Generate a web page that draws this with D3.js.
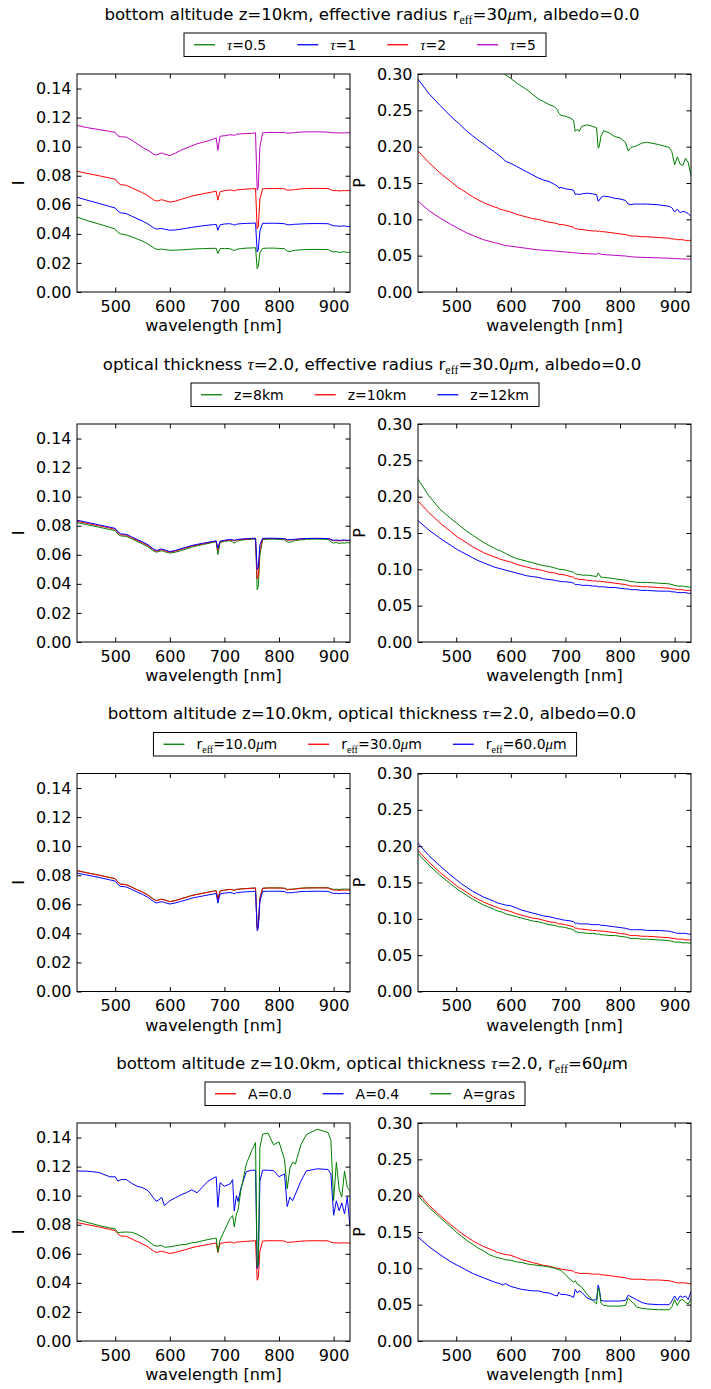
<!DOCTYPE html>
<html><head><meta charset="utf-8">
<script src="https://cdn.jsdelivr.net/npm/d3@7"></script>
<style>
body{margin:0;background:#fff;}
svg text{font-family:"DejaVu Sans",sans-serif;fill:#000;}
</style></head><body>
<svg id="fig" width="711" height="1389"></svg>
<script>
// ---------------- DATA ----------------
const wavelengths = [430,450,470,490,500,505,510,520,530,540,
 550,560,570,575,580,585,590,600,610,620,
 630,640,650,660,670,680,685,688,692,700,
 710,715,718,722,725,730,740,750,757,760,
 762,765,770,780,790,800,810,815,820,825,
 830,840,850,870,890,895,900,905,910,915,
 920,925,930];
const xTicks = [500,600,700,800,900];
const iTicks = [0,0.02,0.04,0.06,0.08,0.10,0.12,0.14];
const pTicks = [0,0.05,0.10,0.15,0.20,0.25,0.30];

// Row 1: optical thickness tau
const I_tau05 = [.0515,.0490,.0468,.0445,.0432,.0410,.0400,.0393,.0380,.0365,
 .0350,.0330,.0305,.0295,.0293,.0295,.0292,.0287,.0288,.0290,
 .0292,.0295,.0297,.0298,.0300,.0300,.0301,.0265,.0298,.0300,
 .0298,.0290,.0285,.0293,.0296,.0298,.0302,.0303,.0305,.0160,
 .0175,.0270,.0300,.0302,.0302,.0300,.0298,.0282,.0278,.0285,
 .0287,.0290,.0292,.0293,.0292,.0282,.0275,.0278,.0272,.0275,
 .0277,.0272,.0274];
const I_tau1 = [.0652,.0630,.0610,.0588,.0578,.0556,.0545,.0540,.0522,.0505,
 .0488,.0468,.0442,.0433,.0435,.0437,.0432,.0425,.0427,.0432,
 .0438,.0445,.0450,.0455,.0460,.0463,.0465,.0425,.0462,.0468,
 .0470,.0465,.0460,.0466,.0468,.0470,.0472,.0473,.0475,.0275,
 .0290,.0420,.0472,.0473,.0473,.0472,.0470,.0463,.0462,.0465,
 .0466,.0468,.0470,.0471,.0470,.0462,.0456,.0455,.0452,.0454,
 .0455,.0450,.0452];
// reference case: z=10km, tau=2, reff=30um, albedo 0
const I_ref = [.0831,.0815,.0800,.0784,.0776,.0752,.0738,.0735,.0718,.0700,
 .0683,.0663,.0635,.0625,.0630,.0635,.0630,.0618,.0625,.0637,
 .0648,.0660,.0668,.0675,.0683,.0690,.0693,.0632,.0690,.0697,
 .0702,.0700,.0695,.0702,.0703,.0705,.0708,.0710,.0712,.0435,
 .0450,.0640,.0710,.0712,.0712,.0712,.0710,.0700,.0702,.0703,
 .0705,.0710,.0712,.0713,.0712,.0703,.0697,.0698,.0695,.0697,
 .0698,.0697,.0698];
const I_tau5 = [.1146,.1130,.1118,.1105,.1098,.1075,.1068,.1066,.1045,.1020,
 .0995,.0975,.0950,.0942,.0950,.0957,.0950,.0938,.0955,.0975,
 .0990,.1005,.1020,.1030,.1040,.1052,.1060,.0975,.1072,.1075,
 .1082,.1080,.1078,.1085,.1086,.1088,.1090,.1092,.1095,.0700,
 .0720,.1000,.1095,.1098,.1098,.1098,.1098,.1092,.1095,.1095,
 .1098,.1100,.1102,.1102,.1100,.1097,.1095,.1095,.1095,.1094,
 .1095,.1096,.1096];
const P_tau05 = [.420,.400,.380,.365,.358,.354,.350,.343,.337,.331,
 .325,.318,.311,.308,.305,.302,.299,.294,.288,.283,
 .278,.272,.266,.262,.258,.255,.251,.246,.243,.242,
 .239,.236,.221,.224,.221,.228,.230,.228,.226,.198,
 .200,.214,.222,.219,.214,.212,.206,.194,.199,.200,
 .201,.205,.206,.203,.199,.193,.175,.186,.176,.174,
 .184,.178,.160];
const P_tau1 = [.293,.273,.257,.242,.235,.232,.228,.221,.215,.209,
 .204,.198,.193,.190,.187,.184,.180,.177,.173,.169,
 .165,.161,.157,.154,.152,.148,.146,.143,.144,.142,
 .141,.140,.134,.135,.134,.135,.136,.135,.134,.125,
 .126,.130,.132,.131,.129,.128,.126,.121,.120,.121,
 .121,.121,.121,.120,.118,.116,.110,.114,.109,.111,
 .110,.108,.104];
const P_ref = [.194,.178,.164,.152,.146,.143,.141,.136,.131,.127,
 .123,.120,.117,.116,.114,.113,.112,.110,.107,.105,
 .103,.101,.100,.098,.096,.095,.094,.093,.093,.092,
 .090,.089,.087,.087,.086,.086,.085,.084,.084,.083,
 .084,.083,.083,.082,.081,.080,.079,.078,.077,.077,
 .077,.076,.076,.075,.074,.073,.073,.072,.072,.072,
 .071,.071,.071];
const P_tau5 = [.125,.112,.102,.093,.089,.087,.085,.081,.078,.075,
 .072,.070,.068,.067,.066,.065,.064,.063,.062,.061,
 .060,.059,.058,.0575,.057,.0563,.056,.0557,.0555,.055,
 .0545,.054,.0538,.0535,.0533,.053,.0527,.0523,.052,.0535,
 .053,.052,.0515,.051,.0505,.050,.0495,.049,.0485,.0483,
 .048,.0477,.0475,.047,.0465,.0462,.046,.0458,.0457,.0455,
 .0454,.0453,.0452];

// Row 2: cloud bottom altitude
const I_z8 = [.0822,.0806,.0790,.0774,.0766,.0742,.0730,.0727,.0710,.0692,
 .0675,.0655,.0627,.0618,.0623,.0628,.0622,.0612,.0618,.0628,
 .0640,.0653,.0662,.0670,.0678,.0686,.0689,.0602,.0685,.0692,
 .0697,.0688,.0680,.0690,.0696,.0700,.0705,.0707,.0708,.0360,
 .0380,.0600,.0705,.0707,.0707,.0706,.0703,.0688,.0686,.0693,
 .0698,.0703,.0707,.0708,.0706,.0690,.0680,.0686,.0678,.0682,
 .0680,.0684,.0682];
const I_z12 = [.0838,.0822,.0806,.0790,.0782,.0758,.0744,.0741,.0724,.0706,
 .0689,.0669,.0640,.0630,.0635,.0640,.0635,.0622,.0630,.0642,
 .0652,.0664,.0672,.0679,.0686,.0693,.0696,.0645,.0694,.0700,
 .0705,.0703,.0700,.0705,.0706,.0708,.0711,.0713,.0714,.0500,
 .0515,.0670,.0713,.0714,.0714,.0713,.0711,.0704,.0705,.0706,
 .0707,.0710,.0712,.0713,.0712,.0706,.0700,.0702,.0699,.0701,
 .0702,.0700,.0701];
const P_z8 = [.224,.201,.183,.170,.164,.161,.158,.152,.147,.142,
 .137,.133,.129,.127,.126,.124,.122,.118,.115,.113,
 .111,.109,.107,.105,.104,.102,.101,.100,.100,.099,
 .097,.096,.094,.093,.093,.092,.092,.091,.090,.095,
 .093,.089,.089,.088,.087,.086,.085,.084,.083,.083,
 .082,.082,.082,.081,.080,.079,.078,.077,.077,.077,
 .076,.076,.075];
const P_z12 = [.167,.154,.143,.133,.128,.126,.124,.120,.116,.112,
 .109,.106,.103,.102,.101,.100,.099,.097,.095,.093,
 .091,.090,.089,.087,.086,.085,.084,.084,.083,.083,
 .082,.081,.079,.079,.079,.078,.078,.077,.077,.076,
 .076,.076,.076,.075,.075,.074,.073,.073,.072,.072,
 .072,.071,.071,.070,.070,.069,.069,.068,.068,.068,
 .068,.067,.067];

// Row 3: effective radius
const I_r10 = [.0832,.0816,.0801,.0785,.0777,.0753,.0739,.0736,.0719,.0701,
 .0684,.0664,.0636,.0626,.0631,.0636,.0631,.0619,.0626,.0638,
 .0649,.0661,.0669,.0676,.0684,.0691,.0694,.0635,.0691,.0698,
 .0703,.0701,.0697,.0703,.0704,.0706,.0709,.0711,.0713,.0440,
 .0455,.0645,.0711,.0713,.0713,.0713,.0711,.0702,.0704,.0705,
 .0706,.0711,.0713,.0714,.0714,.0707,.0703,.0704,.0702,.0704,
 .0705,.0704,.0705];
const I_r60 = [.0815,.0800,.0785,.0768,.0760,.0737,.0723,.0720,.0703,.0685,
 .0668,.0648,.0620,.0609,.0614,.0618,.0613,.0602,.0609,.0620,
 .0630,.0642,.0650,.0657,.0664,.0671,.0674,.0608,.0671,.0677,
 .0681,.0678,.0672,.0680,.0681,.0683,.0686,.0688,.0690,.0418,
 .0435,.0620,.0688,.0690,.0690,.0690,.0688,.0678,.0680,.0681,
 .0683,.0687,.0689,.0690,.0689,.0680,.0675,.0676,.0673,.0675,
 .0676,.0674,.0675];
const P_r10 = [.190,.174,.160,.148,.142,.139,.137,.132,.127,.123,
 .119,.116,.113,.111,.110,.109,.107,.105,.103,.101,
 .099,.097,.096,.094,.092,.091,.090,.089,.089,.088,
 .086,.085,.082,.082,.081,.081,.080,.080,.079,.079,
 .079,.078,.078,.077,.077,.076,.075,.074,.073,.073,
 .073,.072,.072,.071,.070,.069,.068,.068,.068,.067,
 .067,.067,.066];
const P_r60 = [.204,.187,.173,.160,.154,.151,.148,.143,.138,.134,
 .130,.127,.124,.122,.121,.120,.119,.118,.115,.112,
 .110,.108,.106,.104,.103,.101,.100,.100,.099,.098,
 .097,.096,.094,.094,.093,.093,.093,.092,.092,.092,
 .092,.091,.091,.090,.089,.088,.087,.086,.085,.085,
 .085,.085,.084,.084,.083,.082,.081,.080,.080,.080,
 .080,.079,.079];

// Row 4: surface albedo (A=0.0 case is identical to reff=60um)
const I_A04 = [.1170,.1168,.1160,.1130,.1130,.1100,.1110,.1112,.1085,.1065,
 .1055,.1035,.0985,.0962,.0970,.0990,.0932,.0965,.0985,.1005,
 .1020,.1040,.1020,.1060,.1100,.1122,.1130,.0920,.1090,.1065,
 .1080,.1110,.0895,.1000,.0960,.1050,.1165,.1175,.1175,.0500,
 .0520,.1100,.1175,.1175,.1172,.1130,.1150,.0925,.0990,.0965,
 .1010,.1100,.1170,.1185,.1180,.1150,.0865,.0965,.0897,.0950,
 .0875,.0990,.0783];
const I_Agras = [.0836,.0815,.0795,.0778,.0772,.0745,.0748,.0750,.0748,.0735,
 .0715,.0690,.0660,.0652,.0655,.0658,.0645,.0648,.0655,.0662,
 .0665,.0675,.0680,.0690,.0698,.0705,.0708,.0612,.0695,.0760,
 .0840,.0863,.0785,.0875,.0900,.1034,.1217,.1310,.1366,.0510,
 .0530,.1330,.1423,.1430,.1350,.1370,.1250,.1046,.1190,.1230,
 .1217,.1350,.1420,.1457,.1434,.1380,.0966,.1230,.1046,.0990,
 .1170,.1057,.1034];
const P_A04 = [.143,.130,.119,.109,.105,.103,.101,.097,.093,.090,
 .087,.084,.081,.080,.079,.077,.079,.075,.073,.071,
 .070,.069,.069,.067,.066,.063,.062,.067,.064,.064,
 .062,.060,.071,.066,.069,.067,.059,.056,.057,.077,
 .072,.056,.055,.055,.055,.055,.056,.063,.061,.059,
 .057,.053,.051,.050,.050,.055,.062,.056,.062,.060,
 .062,.057,.068];
const P_Agras = [.200,.184,.170,.157,.150,.147,.144,.138,.133,.128,
 .124,.119,.116,.115,.114,.113,.112,.111,.109,.108,
 .106,.105,.104,.103,.102,.100,.099,.098,.097,.091,
 .084,.081,.083,.078,.077,.074,.064,.056,.051,.073,
 .070,.052,.049,.048,.048,.048,.049,.059,.055,.052,
 .047,.045,.044,.043,.043,.047,.057,.049,.056,.057,
 .053,.051,.058];

// Colours
const GREEN = "#008000", BLUE = "#0000ff", RED = "#ff0000", MAGENTA = "#bf00bf";

// Titles (rich text segments: n=normal, m=math italic, s=subscript)
const titles = [
 [["n","bottom altitude z=10km, effective radius r"],["s","eff"],["n","=30"],["m","μ"],["n","m, albedo=0.0"]],
 [["n","optical thickness "],["m","τ"],["n","=2.0, effective radius r"],["s","eff"],["n","=30.0"],["m","μ"],["n","m, albedo=0.0"]],
 [["n","bottom altitude z=10.0km, optical thickness "],["m","τ"],["n","=2.0, albedo=0.0"]],
 [["n","bottom altitude z=10.0km, optical thickness "],["m","τ"],["n","=2.0, r"],["s","eff"],["n","=60"],["m","μ"],["n","m"]]
];
const legendLabels = [
 [[["m","τ"],["n","=0.5"]], [["m","τ"],["n","=1"]], [["m","τ"],["n","=2"]], [["m","τ"],["n","=5"]]],
 [[["n","z=8km"]], [["n","z=10km"]], [["n","z=12km"]]],
 [[["n","r"],["s","eff"],["n","=10.0"],["m","μ"],["n","m"]], [["n","r"],["s","eff"],["n","=30.0"],["m","μ"],["n","m"]], [["n","r"],["s","eff"],["n","=60.0"],["m","μ"],["n","m"]]],
 [[["n","A=0.0"]], [["n","A=0.4"]], [["n","A=gras"]]]
];
const rowColors = [[GREEN,BLUE,RED,MAGENTA],[GREEN,RED,BLUE],[GREEN,RED,BLUE],[RED,BLUE,GREEN]];
const rowI = [[I_tau05,I_tau1,I_ref,I_tau5],[I_z8,I_ref,I_z12],[I_r10,I_ref,I_r60],[I_r60,I_A04,I_Agras]];
const rowP = [[P_tau05,P_tau1,P_ref,P_tau5],[P_z8,P_ref,P_z12],[P_r10,P_ref,P_r60],[P_r60,P_A04,P_Agras]];

// ---------------- DRAW ----------------
const svg = d3.select("#fig");
svg.append("rect").attr("width",711).attr("height",1389).attr("fill","#fff");
const PW = 273, PH = 218;
const COLX = [77, 418];
const ROWY = [74, 424, 773.5, 1123];
const SERIF = "'Liberation Serif','DejaVu Serif',serif";
let clipN = 0;

function richText(sel, segs, size) {
  let shift = 0;
  segs.forEach(([k, t]) => {
    const ts = sel.append("tspan").text(t);
    if (k === "s") {
      const d = size * 0.25;
      ts.attr("font-family", SERIF).attr("font-size", size * 0.72).attr("dy", d);
      shift = d;
    } else {
      if (shift) { ts.attr("dy", -shift); shift = 0; }
      if (k === "m") ts.attr("font-family", SERIF).attr("font-style", "italic").attr("font-size", size * 1.05);
    }
  });
  return sel;
}

function drawPanel(x0, y0, yMax, ticks, seriesList, colors, ylab) {
  const x = d3.scaleLinear().domain([430, 930]).range([x0, x0 + PW]);
  const y = d3.scaleLinear().domain([0, yMax]).range([y0 + PH, y0]);
  const id = "clip" + (clipN++);
  svg.append("clipPath").attr("id", id).append("rect")
    .attr("x", x0).attr("y", y0).attr("width", PW).attr("height", PH);
  const line = d3.line().x((d, i) => x(wavelengths[i])).y(d => y(d));
  const g = svg.append("g").attr("clip-path", `url(#${id})`);
  seriesList.forEach((s, i) => {
    g.append("path").attr("d", line(s)).attr("fill", "none")
      .attr("stroke", colors[i]).attr("stroke-width", 1).attr("stroke-linejoin", "round");
  });
  const ax = (gen, tx, ty) => {
    const a = svg.append("g").attr("transform", `translate(${tx},${ty})`).call(gen);
    a.select(".domain").remove();
    a.attr("font-size", 16).attr("font-family", "DejaVu Sans");
    a.selectAll("line").attr("stroke", "#000");
    return a;
  };
  ax(d3.axisBottom(x).tickValues(xTicks).tickSize(-4.5).tickPadding(8.5).tickFormat(d3.format("d")), 0, y0 + PH);
  ax(d3.axisTop(x).tickValues(xTicks).tickSize(-4.5).tickFormat(""), 0, y0);
  ax(d3.axisLeft(y).tickValues(ticks).tickSize(-4.5).tickPadding(5.5).tickFormat(d3.format(".2f")), x0, 0);
  ax(d3.axisRight(y).tickValues(ticks).tickSize(-4.5).tickFormat(""), x0 + PW, 0);
  svg.append("rect").attr("x", x0).attr("y", y0).attr("width", PW).attr("height", PH)
    .attr("fill", "none").attr("stroke", "#000").attr("stroke-width", 1);
  svg.append("text").attr("x", x0 + PW / 2).attr("y", y0 + PH + 39)
    .attr("text-anchor", "middle").attr("font-size", 16).text("wavelength [nm]");
  svg.append("text").attr("transform", `translate(${x0 - 53},${y0 + PH / 2}) rotate(-90)`)
    .attr("text-anchor", "middle").attr("font-size", 16).text(ylab);
}

function drawLegend(cx, top, labels, colors) {
  const FS = 14, H = 23.5, PAD = 10, HL = 21, HTP = 12, CS = 31;
  const g = svg.append("g");
  const box = g.append("rect").attr("y", top).attr("height", H)
    .attr("fill", "#fff").attr("stroke", "#000").attr("stroke-width", 1);
  let xc = 0;
  const items = [];
  labels.forEach((segs, i) => {
    const ig = g.append("g");
    ig.append("line").attr("x1", xc).attr("x2", xc + HL).attr("y1", top + H / 2).attr("y2", top + H / 2)
      .attr("stroke", colors[i]).attr("stroke-width", 1.3);
    const t = richText(ig.append("text").attr("x", xc + HL + HTP).attr("y", top + H / 2 + 5).attr("font-size", FS), segs, FS);
    const w = t.node().getComputedTextLength();
    xc += HL + HTP + w + CS;
    items.push(ig);
  });
  const total = xc - CS + 2 * PAD;
  const left = cx - total / 2;
  box.attr("x", left).attr("width", total);
  items.forEach(ig => ig.attr("transform", `translate(${left + PAD},0)`));
}

ROWY.forEach((y0, r) => {
  const tt = svg.append("text").attr("x", 372).attr("y", y0 - 54.5).attr("text-anchor", "middle").attr("font-size", 16.6);
  richText(tt, titles[r], 16.6);
  drawLegend(365, y0 - 41, legendLabels[r], rowColors[r]);
  drawPanel(COLX[0], y0, 0.15, iTicks, rowI[r], rowColors[r], "I");
  drawPanel(COLX[1], y0, 0.30, pTicks, rowP[r], rowColors[r], "P");
});
</script>
</body></html>
